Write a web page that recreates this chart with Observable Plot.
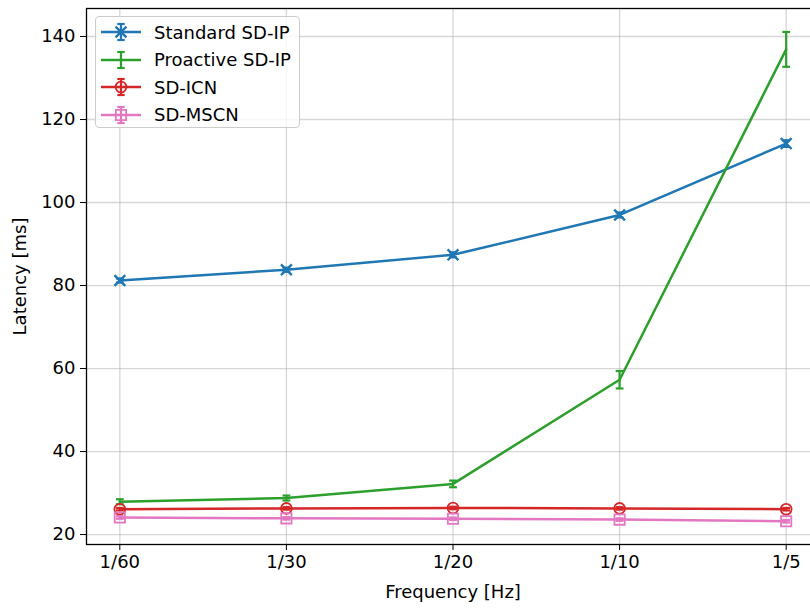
<!DOCTYPE html>
<html>
<head>
<meta charset="utf-8">
<script src="https://cdn.jsdelivr.net/npm/d3@7"></script>
<script src="https://cdn.jsdelivr.net/npm/@observablehq/plot@0.6"></script>
<style>
  html, body { margin: 0; padding: 0; background: #fff; overflow: hidden; width: 810px; height: 608px; }
  #wrap { position: relative; width: 810px; height: 608px; overflow: hidden; }
  #wrap > svg { max-width: none !important; width: 833px; height: 608px; display: block; }
  #legend { position: absolute; left: 95px; top: 16px; width: 205px; height: 112px; box-sizing: border-box;
    border: 1px solid #cccccc; border-radius: 4px; background: rgba(255,255,255,0.8);
    font-family: "DejaVu Sans", sans-serif; font-size: 18px; color: #000; }
  .row { position: absolute; left: 0; height: 28px; display: flex; align-items: center; }
  .row svg { margin-left: 5px; }
  .row span { margin-left: 13px; white-space: nowrap; }
</style>
</head>
<body>
<div id="wrap"><div id="legend"></div></div>
<script>
const categories = ["1/60", "1/30", "1/20", "1/10", "1/5"];
const seriesNames = ["Standard SD-IP", "Proactive SD-IP", "SD-ICN", "SD-MSCN"];
const colors = ["#1f77b4", "#2ca02c", "#d62728", "#e377c2"];
const standardSDIP = [81.2, 83.8, 87.4, 97.0, 114.2];
const standardErr  = [0.5, 0.5, 0.6, 0.6, 0.8];
const proactiveSDIP = [27.9, 28.8, 32.2, 57.3, 136.9];
const proactiveErr  = [0.6, 0.6, 0.8, 2.1, 4.2];
const sdICN = [26.1, 26.3, 26.4, 26.3, 26.1];
const sdICNErr = [0.3, 0.3, 0.3, 0.3, 0.3];
const sdMSCN = [24.1, 23.9, 23.8, 23.6, 23.2];
const sdMSCNErr = [0.3, 0.3, 0.3, 0.3, 0.3];
const yTicks = [20, 40, 60, 80, 100, 120, 140];

const values = [standardSDIP, proactiveSDIP, sdICN, sdMSCN];
const errs = [standardErr, proactiveErr, sdICNErr, sdMSCNErr];
const symbols = ["times", null, "circle", "square"];
const markerR = [5.0, 0, 5.4, 5.8];

const data = [];
seriesNames.forEach((s, k) => categories.forEach((c, i) => {
  data.push({series: s, k, i, cat: c, y: values[k][i], lo: values[k][i] - errs[k][i], hi: values[k][i] + errs[k][i]});
}));

const capSymbol = {
  draw(ctx, size) {
    const r = Math.sqrt(size / Math.PI);
    ctx.moveTo(-r, 0); ctx.lineTo(r, 0);
  }
};

const marks = [
  Plot.gridX(d3.range(categories.length), {stroke: "#b0b0b0", strokeOpacity: 0.5, strokeWidth: 1.3}),
  Plot.gridY(yTicks, {stroke: "#b0b0b0", strokeOpacity: 0.5, strokeWidth: 1.3}),
];
seriesNames.forEach((s, k) => {
  const d = data.filter(e => e.k === k);
  marks.push(Plot.line(d, {x: "i", y: "y", stroke: colors[k], strokeWidth: 2.5}));
  marks.push(Plot.ruleX(d, {x: "i", y1: "lo", y2: "hi", stroke: colors[k], strokeWidth: 2.2}));
  marks.push(Plot.dot(d, {x: "i", y: "lo", symbol: capSymbol, r: 3.9, stroke: colors[k], strokeWidth: 2.2}));
  marks.push(Plot.dot(d, {x: "i", y: "hi", symbol: capSymbol, r: 3.9, stroke: colors[k], strokeWidth: 2.2}));
  if (symbols[k]) marks.push(Plot.dot(d, {x: "i", y: "y", symbol: symbols[k], r: markerR[k], stroke: colors[k], strokeWidth: symbols[k] === "times" ? 2.4 : 1.8, fill: "none"}));
});
marks.push(Plot.frame({stroke: "#000", strokeWidth: 1.3}));
marks.push(Plot.axisX(d3.range(categories.length), {tickFormat: i => categories[i], tickSize: 6, tickPadding: 5, fontSize: 18,
  label: "Frequency [Hz]", labelArrow: "none", labelAnchor: "center", labelOffset: 53}));
marks.push(Plot.axisY(yTicks, {tickSize: 6, tickPadding: 5, fontSize: 18,
  label: "Latency [ms]", labelArrow: "none", labelAnchor: "center", labelOffset: 73}));

const chart = Plot.plot({
  width: 833, height: 608,
  marginLeft: 86, marginRight: 14, marginTop: 8, marginBottom: 64,
  x: {type: "linear", domain: [-0.2, 4.2]},
  y: {domain: [17.6, 146.75]},
  style: {fontFamily: "DejaVu Sans, sans-serif", fontSize: "18px", color: "#000", background: "#fff", maxWidth: "none"},
  marks
});
chart.style.maxWidth = "none";
document.getElementById("wrap").prepend(chart);

// legend
const leg = d3.select("#legend");
seriesNames.forEach((s, k) => {
  const row = leg.append("div").attr("class", "row").style("top", (1 + k * 27.5) + "px");
  const svg = row.append("svg").attr("width", 40).attr("height", 22);
  svg.append("line").attr("x1", 0).attr("x2", 40).attr("y1", 11).attr("y2", 11).attr("stroke", colors[k]).attr("stroke-width", 2.5);
  svg.append("line").attr("x1", 20).attr("x2", 20).attr("y1", 3).attr("y2", 19).attr("stroke", colors[k]).attr("stroke-width", 2.2);
  svg.append("line").attr("x1", 16.3).attr("x2", 23.7).attr("y1", 3).attr("y2", 3).attr("stroke", colors[k]).attr("stroke-width", 2.2);
  svg.append("line").attr("x1", 16.3).attr("x2", 23.7).attr("y1", 19).attr("y2", 19).attr("stroke", colors[k]).attr("stroke-width", 2.2);
  if (symbols[k]) {
    const sym = d3.symbol().type(symbols[k] === "times" ? d3.symbolTimes : symbols[k] === "circle" ? d3.symbolCircle : d3.symbolSquare)
      .size(Math.PI * markerR[k] * markerR[k]);
    svg.append("path").attr("d", sym()).attr("transform", "translate(20,11)").attr("fill", "none").attr("stroke", colors[k])
      .attr("stroke-width", symbols[k] === "times" ? 2.4 : 1.8);
  }
  row.append("span").text(s);
});
</script>
</body>
</html>
